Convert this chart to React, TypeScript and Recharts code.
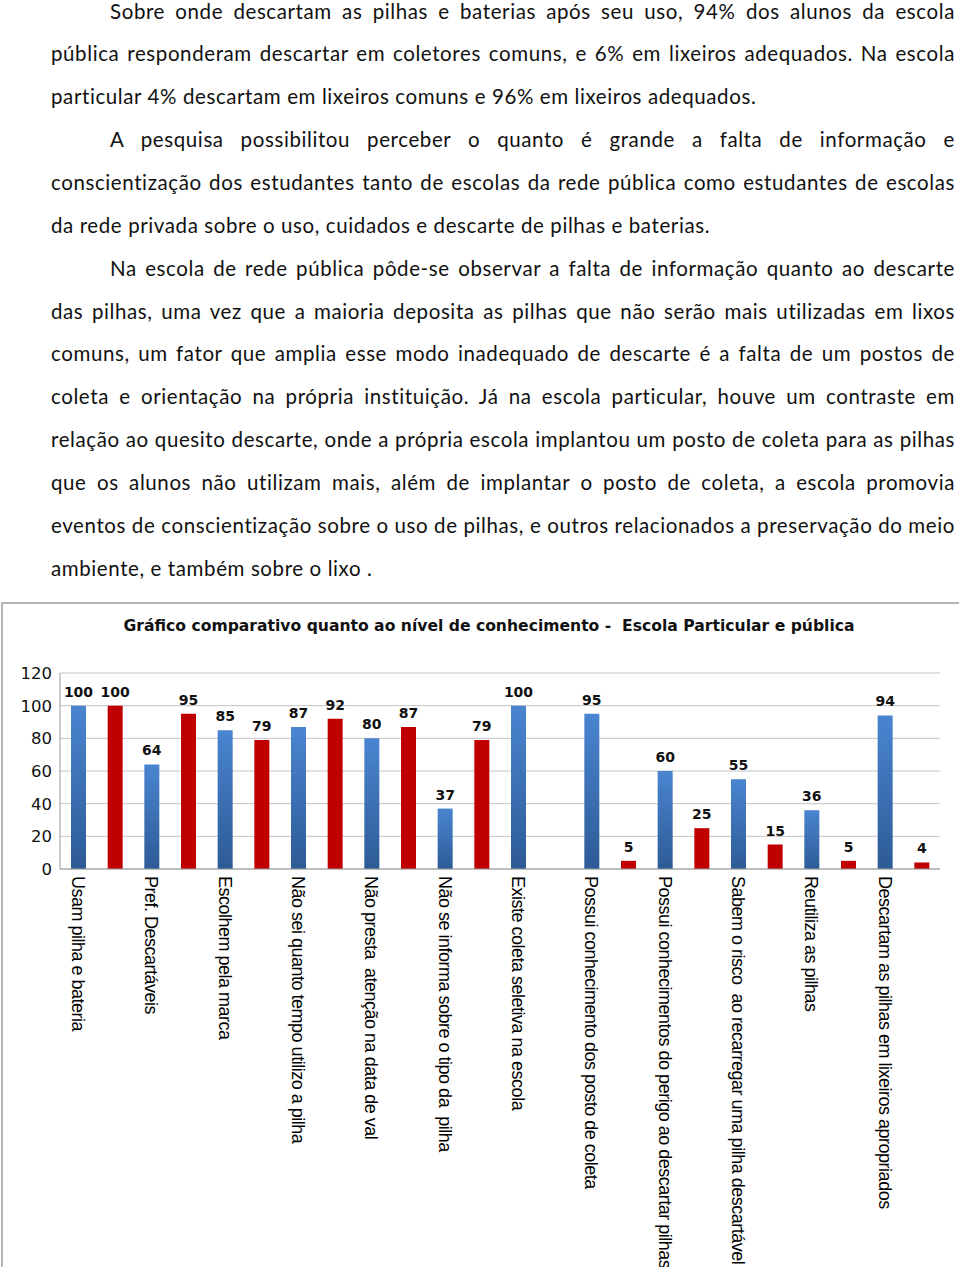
import { BarChart, Bar, XAxis, YAxis, CartesianGrid, Cell, LabelList } from "recharts";

// texto do documento, uma entrada por linha (a ultima linha de cada paragrafo fica sem justificar)
const paragrafos = [
  [
    "Sobre onde descartam as pilhas e baterias após seu uso, 94% dos alunos da escola",
    "pública responderam descartar em coletores comuns, e 6% em lixeiros adequados. Na escola",
    "particular 4% descartam em lixeiros comuns e 96% em lixeiros adequados.",
  ],
  [
    "A pesquisa possibilitou perceber o quanto é grande a falta de informação e",
    "conscientização dos estudantes tanto de escolas da rede pública como estudantes de escolas",
    "da rede privada sobre o uso, cuidados e descarte de pilhas e baterias.",
  ],
  [
    "Na escola de rede pública pôde-se observar a falta de informação quanto ao descarte",
    "das pilhas, uma vez que a maioria deposita as pilhas que não serão mais utilizadas em lixos",
    "comuns, um fator que amplia esse modo inadequado de descarte é a falta de um postos de",
    "coleta e orientação na própria instituição. Já na escola particular, houve um contraste em",
    "relação ao quesito descarte, onde a própria escola implantou um posto de coleta para as pilhas",
    "que os alunos não utilizam mais, além de implantar o posto de coleta, a escola promovia",
    "eventos de conscientização sobre o uso de pilhas, e outros relacionados a preservação do meio",
    "ambiente, e também sobre o lixo .",
  ],
];

const titulo = "Gráfico comparativo quanto ao nível de conhecimento -  Escola Particular e pública";

const categorias = [
  "Usam pilha e bateria",
  "Pref. Descartáveis",
  "Escolhem pela marca",
  "Não sei quanto tempo utilizo a pilha",
  "Não presta  atenção na data de val",
  "Não se informa sobre o tipo da  pilha",
  "Existe coleta seletiva na escola",
  "Possui conhecimento dos posto de coleta",
  "Possui conhecimentos do perigo ao descartar pilhas",
  "Sabem o risco  ao recarregar uma pilha descartável",
  "Reutiliza as pilhas",
  "Descartam as pilhas em lixeiros apropriados",
];

const particular = [100, 64, 85, 87, 80, 37, 100, 95, 60, 55, 36, 94];
const publica = [100, 95, 79, 92, 87, 79, null, 5, 25, 15, 5, 4];

const yTicks = [0, 20, 40, 60, 80, 100, 120];

// uma barra por posicao: particular (azul) e depois publica (vermelho)
const dados = categorias.flatMap((cat, i) => [
  { rotulo: cat, escola: "particular", valor: particular[i] },
  { rotulo: cat + " (pública)", escola: "publica", valor: publica[i] },
]);

function RotuloCategoria(props: any) {
  const { x, y, payload } = props;
  return (
    <g transform={`translate(${x},${y - 1})`}>
      <text
        transform="rotate(90)"
        x={0}
        y={0}
        dy="0.36em"
        textAnchor="start"
        fill="#000"
        fontFamily="'Liberation Sans', Arial, sans-serif"
        fontSize={18}
        letterSpacing={-0.5}
        style={{ whiteSpace: "pre" }}
      >
        {payload.value}
      </text>
    </g>
  );
}

export default function App() {
  return (
    <div style={{ position: "relative", width: 960, height: 1267, overflow: "hidden", background: "#fff" }}>
      <style>{"body{margin:0}"}</style>

      <div
        style={{
          position: "absolute",
          left: 51,
          top: -10.4,
          width: 904,
          fontFamily: "Lato, sans-serif",
          fontSize: 20.5,
          letterSpacing: 0.6,
          lineHeight: "42.85px",
          color: "#111",
        }}
      >
        {paragrafos.map((linhas, p) =>
          linhas.map((linha, i) => {
            const ultima = i === linhas.length - 1;
            return (
              <div
                key={p + "-" + i}
                style={{
                  paddingLeft: i === 0 ? 59 : 0,
                  textAlign: ultima ? "left" : "justify",
                  textAlignLast: ultima ? "left" : "justify",
                }}
              >
                {linha}
              </div>
            );
          })
        )}
      </div>

      <div
        style={{
          position: "absolute",
          left: 1,
          top: 602,
          width: 956,
          height: 700,
          borderTop: "2px solid #b4b4b4",
          borderLeft: "2px solid #b4b4b4",
        }}
      >
        <div
          style={{
            position: "absolute",
            left: 0,
            top: 13,
            width: 972,
            textAlign: "center",
            whiteSpace: "pre",
            fontFamily: "'DejaVu Sans', Verdana, sans-serif",
            fontWeight: "bold",
            fontSize: 15.6,
            color: "#111",
          }}
        >
          {titulo}
        </div>

        <BarChart
          width={954}
          height={663}
          data={dados}
          margin={{ top: 69, right: 17, bottom: 0, left: 0 }}
        >
          <defs>
            <linearGradient id="azulGrad" x1="0" y1="0" x2="0" y2="1">
              <stop offset="0%" stopColor="#4a85d0" />
              <stop offset="100%" stopColor="#2d5b96" />
            </linearGradient>
          </defs>
          <CartesianGrid vertical={false} stroke="#c4c4c4" />
          <XAxis
            dataKey="rotulo"
            interval={1}
            height={398}
            tickLine={false}
            stroke="#9a9a9a"
            tick={<RotuloCategoria />}
          />
          <YAxis
            width={57}
            domain={[0, 120]}
            ticks={yTicks}
            tickLine={false}
            stroke="#9a9a9a"
            tick={{ fill: "#111", fontSize: 16.5, fontFamily: "'DejaVu Sans', Verdana, sans-serif" }}
          />
          <Bar dataKey="valor" barSize={15} isAnimationActive={false}>
            {dados.map((d, i) => (
              <Cell key={i} fill={d.escola === "particular" ? "url(#azulGrad)" : "#c00000"} />
            ))}
            <LabelList
              dataKey="valor"
              position="top"
              offset={9}
              fill="#111"
              fontSize={14}
              fontWeight="bold"
              fontFamily="'DejaVu Sans', Verdana, sans-serif"
            />
          </Bar>
        </BarChart>
      </div>
    </div>
  );
}
